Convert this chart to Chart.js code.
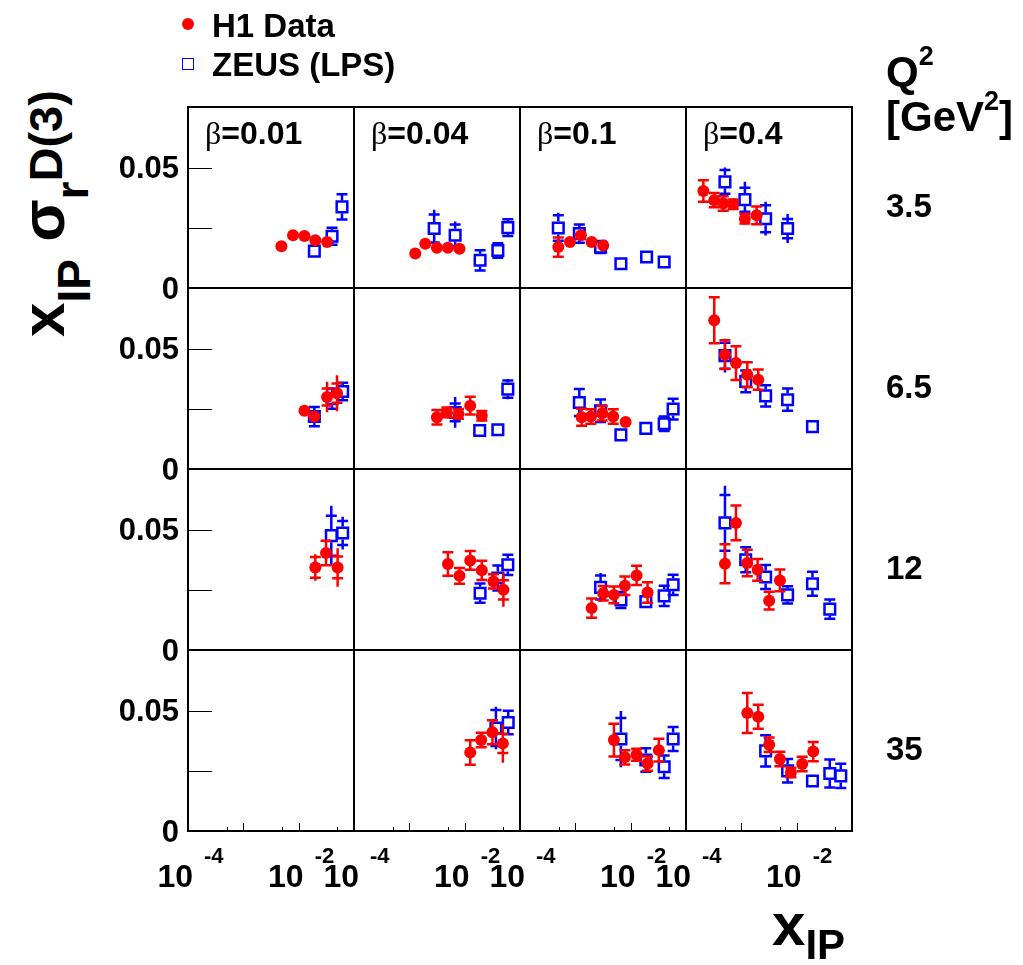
<!DOCTYPE html>
<html><head><meta charset="utf-8">
<script src="https://cdn.jsdelivr.net/npm/chart.js@4.4.1/dist/chart.umd.min.js"></script>
<style>
body{margin:0;background:#fff;}
#root{position:relative;width:1023px;height:965px;overflow:hidden;font-family:"Liberation Sans",Arial,sans-serif;font-weight:bold;color:#000;}
#root canvas{position:absolute;}
.t{position:absolute;white-space:nowrap;line-height:1;}
.sym{font-family:"Liberation Serif","DejaVu Serif",serif;font-weight:normal;}
</style></head><body><div id="root"></div>
<script>
// ---- labels / ticks ----
const betaValues = ['0.01', '0.04', '0.1', '0.4'];
const q2Values = ['3.5', '6.5', '12', '35'];
const yLabelTicks = [0, 0.05];
const yPlainTicks = [0.025, 0.05];
const xLabelExps = [-4, -2];
const xMajorTicks = [1e-3, 1e-2];
const xMinorTicks = [5e-4, 5e-3, 5e-2];

// ---- data: [x_IP, x_IP*sigma_r^D(3), stat error, total error] ----
const h1_q3p5_b001 = [[0.00488,0.0173,0.001,0.001],[0.0079,0.0219,0.001,0.001],[0.0127,0.0216,0.001,0.001],[0.0200,0.0198,0.001,0.001],[0.0326,0.0191,0.0015,0.002]];
const zeus_q3p5_b001 = [[0.0192,0.0153,0.001,0.001],[0.0401,0.0215,0.0035,0.0035],[0.0607,0.0337,0.0052,0.0055]];
const h1_q3p5_b004 = [[0.00128,0.0143,0.001,0.001],[0.00194,0.0184,0.001,0.001],[0.00315,0.0167,0.001,0.001],[0.00498,0.0167,0.001,0.001],[0.00806,0.0163,0.001,0.001]];
const zeus_q3p5_b004 = [[0.00281,0.0247,0.0058,0.0078],[0.00673,0.0219,0.0045,0.0057],[0.0190,0.0115,0.0042,0.0042],[0.0398,0.0156,0.003,0.003],[0.0603,0.0251,0.0035,0.0035]];
const h1_q3p5_b01 = [[0.000492,0.0170,0.004,0.004],[0.000799,0.0191,0.0015,0.0015],[0.00126,0.0219,0.0015,0.0015],[0.00197,0.0191,0.001,0.001],[0.00319,0.0177,0.001,0.001]];
const zeus_q3p5_b01 = [[0.000492,0.0249,0.0053,0.0064],[0.00118,0.0226,0.0038,0.0042],[0.00286,0.0170,0.0025,0.0025],[0.00666,0.0101,0.001,0.001],[0.0194,0.0129,0.001,0.001],[0.0403,0.0108,0.001,0.001]];
const h1_q3p5_b04 = [[0.000206,0.0403,0.0045,0.0045],[0.000324,0.0365,0.003,0.003],[0.000471,0.0351,0.003,0.003],[0.000714,0.0348,0.002,0.002],[0.00116,0.0288,0.002,0.002],[0.00189,0.0302,0.0037,0.0037]];
const zeus_q3p5_b04 = [[0.000506,0.0441,0.0049,0.006],[0.00116,0.0367,0.005,0.0074],[0.00275,0.0288,0.0056,0.007],[0.00686,0.0247,0.004,0.006]];

const h1_q6p5_b001 = [[0.0127,0.0242,0.001,0.001],[0.0192,0.0218,0.001,0.001],[0.0326,0.0299,0.0035,0.0063],[0.0493,0.0315,0.004,0.0075]];
const zeus_q6p5_b001 = [[0.0192,0.0218,0.004,0.004],[0.0401,0.0292,0.0042,0.0042],[0.0624,0.0322,0.0036,0.0036]];
const h1_q6p5_b004 = [[0.00315,0.0215,0.003,0.003],[0.00477,0.0235,0.002,0.002],[0.00773,0.0229,0.002,0.002],[0.0126,0.0263,0.0037,0.0037],[0.0204,0.0221,0.002,0.002]];
const zeus_q6p5_b004 = [[0.00673,0.0235,0.0037,0.0064],[0.0187,0.0160,0.001,0.001],[0.0398,0.0163,0.002,0.002],[0.0603,0.0332,0.0036,0.0042]];
const h1_q6p5_b01 = [[0.0013,0.0215,0.0035,0.0035],[0.00191,0.0218,0.003,0.003],[0.00306,0.0232,0.003,0.003],[0.00483,0.0218,0.003,0.003],[0.0081,0.0195,0.001,0.001]];
const zeus_q6p5_b01 = [[0.00118,0.0276,0.0056,0.0062],[0.00286,0.0242,0.0047,0.0047],[0.00666,0.0142,0.001,0.001],[0.0188,0.0169,0.002,0.002],[0.0403,0.0188,0.003,0.003],[0.0585,0.0249,0.0043,0.0043]];
const h1_q6p5_b04 = [[0.000324,0.0618,0.0096,0.0096],[0.000506,0.0475,0.006,0.006],[0.0008,0.0440,0.007,0.007],[0.00128,0.0392,0.0052,0.0052],[0.00202,0.0371,0.0042,0.0042]];
const zeus_q6p5_b04 = [[0.000506,0.0471,0.0054,0.007],[0.0012,0.0364,0.0045,0.0045],[0.00275,0.0304,0.0044,0.0044],[0.00686,0.0288,0.0046,0.0046],[0.0193,0.0176,0.0015,0.0015]];

const h1_q12_b001 = [[0.0200,0.0343,0.0043,0.0055],[0.0312,0.0403,0.0051,0.0051],[0.0506,0.0343,0.0045,0.008]];
const zeus_q12_b001 = [[0.0389,0.0475,0.0083,0.0124],[0.0624,0.0486,0.005,0.0068]];
const h1_q12_b004 = [[0.00498,0.0357,0.0049,0.0049],[0.00806,0.0308,0.0033,0.0033],[0.0126,0.0372,0.0039,0.0039],[0.0204,0.0331,0.004,0.004],[0.0331,0.0285,0.003,0.003],[0.0501,0.0250,0.004,0.007]];
const zeus_q12_b004 = [[0.0190,0.0236,0.004,0.004],[0.0398,0.0299,0.0052,0.0052],[0.0603,0.0354,0.0042,0.0042]];
const h1_q12_b01 = [[0.00197,0.0174,0.004,0.004],[0.00319,0.0236,0.003,0.003],[0.00498,0.0229,0.0035,0.0035],[0.00786,0.0267,0.0038,0.0038],[0.0128,0.0310,0.004,0.004],[0.0202,0.0239,0.0043,0.0043]];
const zeus_q12_b01 = [[0.00286,0.0260,0.005,0.006],[0.00666,0.0208,0.0033,0.0033],[0.0188,0.0201,0.0015,0.0015],[0.0403,0.0225,0.0042,0.0042],[0.0585,0.0271,0.0042,0.0042]];
const h1_q12_b04 = [[0.000506,0.0358,0.0081,0.0081],[0.0008,0.0528,0.0072,0.0072],[0.00128,0.0361,0.0055,0.0055],[0.00197,0.0333,0.0045,0.0045],[0.00318,0.0205,0.0037,0.0037],[0.00498,0.0289,0.0045,0.0045]];
const zeus_q12_b04 = [[0.000506,0.0528,0.0116,0.0154],[0.0012,0.0375,0.0052,0.0052],[0.00275,0.0303,0.005,0.005],[0.00686,0.0229,0.0036,0.0036],[0.0193,0.0275,0.005,0.005],[0.0397,0.0170,0.004,0.004]];

const h1_q35_b001 = [];
const zeus_q35_b001 = [];
const h1_q35_b004 = [[0.0126,0.0326,0.0051,0.0051],[0.0199,0.0378,0.003,0.003],[0.0318,0.0410,0.005,0.005],[0.0490,0.0364,0.004,0.008]];
const zeus_q35_b004 = [[0.0367,0.0428,0.0075,0.0088],[0.0612,0.0451,0.0049,0.0049]];
const h1_q35_b01 = [[0.00498,0.0378,0.0068,0.0068],[0.00786,0.0306,0.003,0.003],[0.0128,0.0317,0.0025,0.0025],[0.0202,0.0280,0.003,0.003],[0.0323,0.0336,0.0047,0.0047]];
const zeus_q35_b01 = [[0.00666,0.0382,0.0087,0.0117],[0.0188,0.0295,0.0049,0.0049],[0.0403,0.0267,0.0047,0.0047],[0.0585,0.0382,0.005,0.005]];
const h1_q35_b04 = [[0.00128,0.0490,0.0083,0.0083],[0.00202,0.0475,0.005,0.005],[0.00318,0.0358,0.003,0.003],[0.00498,0.0299,0.003,0.003],[0.00786,0.0243,0.002,0.002],[0.0126,0.0278,0.003,0.003],[0.0199,0.0330,0.004,0.004]];
const zeus_q35_b04 = [[0.00275,0.0333,0.0065,0.0065],[0.00686,0.0250,0.0049,0.0049],[0.0193,0.0208,0.002,0.002],[0.0397,0.0239,0.0058,0.0058],[0.0627,0.0229,0.005,0.005]];

const h1Panels = [
  [h1_q3p5_b001, h1_q3p5_b004, h1_q3p5_b01, h1_q3p5_b04],
  [h1_q6p5_b001, h1_q6p5_b004, h1_q6p5_b01, h1_q6p5_b04],
  [h1_q12_b001, h1_q12_b004, h1_q12_b01, h1_q12_b04],
  [h1_q35_b001, h1_q35_b004, h1_q35_b01, h1_q35_b04]
];
const zeusPanels = [
  [zeus_q3p5_b001, zeus_q3p5_b004, zeus_q3p5_b01, zeus_q3p5_b04],
  [zeus_q6p5_b001, zeus_q6p5_b004, zeus_q6p5_b01, zeus_q6p5_b04],
  [zeus_q12_b001, zeus_q12_b004, zeus_q12_b01, zeus_q12_b04],
  [zeus_q35_b001, zeus_q35_b004, zeus_q35_b01, zeus_q35_b04]
];

// ---- layout ----
const PL = [188, 354, 520, 686], PT = [107, 288, 469, 650], PW = 166, PH = 181, M = 80;
const RED = '#ff0000', BLUE = '#0000ff';
const FONT = '"Liberation Sans", Arial, sans-serif';
const root = document.getElementById('root');

function addText(html, left, top, size, extra) {
  const d = document.createElement('div');
  d.className = 't';
  d.style.left = left + 'px';
  d.style.top = top + 'px';
  d.style.fontSize = size + 'px';
  if (extra) Object.assign(d.style, extra);
  d.innerHTML = html;
  root.appendChild(d);
  return d;
}

const errorBars = {
  id: 'errorBars',
  beforeDatasetDraw(chart, args) {
    const ds = chart.data.datasets[args.index];
    const ctx = chart.ctx, xs = chart.scales.x, ys = chart.scales.y;
    ctx.save();
    ctx.strokeStyle = ds.borderColor;
    ctx.lineWidth = 2.5;
    ds.errs.forEach((e, i) => {
      const p = ds.data[i];
      const px = xs.getPixelForValue(p.x), py = ys.getPixelForValue(p.y);
      const h = ds.half;
      const tU = ys.getPixelForValue(p.y + e.tot), tD = ys.getPixelForValue(p.y - e.tot);
      const sU = ys.getPixelForValue(p.y + e.stat), sD = ys.getPixelForValue(p.y - e.stat);
      ctx.beginPath();
      if (py - tU > h) { ctx.moveTo(px, py - h); ctx.lineTo(px, tU); ctx.moveTo(px, py + h); ctx.lineTo(px, tD); }
      if (py - sU > h - 1) { ctx.moveTo(px - 5.5, sU); ctx.lineTo(px + 5.5, sU); ctx.moveTo(px - 5.5, sD); ctx.lineTo(px + 5.5, sD); }
      ctx.stroke();
    });
    ctx.restore();
  }
};

const frameAxes = {
  id: 'frameAxes',
  afterDraw(chart) {
    const ctx = chart.ctx, a = chart.chartArea, xs = chart.scales.x, ys = chart.scales.y;
    const o = chart.options.plugins.frameAxes;
    ctx.save();
    ctx.strokeStyle = '#000';
    ctx.lineWidth = 2;
    ctx.strokeRect(a.left, a.top, a.right - a.left, a.bottom - a.top);
    ctx.fillStyle = '#000';
    if (o.col === 0) {
      ctx.lineWidth = 1;
      yPlainTicks.forEach(v => {
        const y = Math.round(ys.getPixelForValue(v)) + 0.5;
        ctx.beginPath(); ctx.moveTo(a.left, y); ctx.lineTo(a.left + 24, y); ctx.stroke();
      });
      ctx.font = 'bold 31px ' + FONT;
      ctx.textAlign = 'right';
      ctx.textBaseline = 'middle';
      yLabelTicks.forEach(v => {
        ctx.fillText(v === 0 ? '0' : String(v), a.left - 9, ys.getPixelForValue(v) + 2);
      });
    }
    if (o.row === 3) {
      ctx.lineWidth = 1;
      xMajorTicks.forEach(v => {
        const x = Math.round(xs.getPixelForValue(v)) + 0.5;
        ctx.beginPath(); ctx.moveTo(x, a.bottom); ctx.lineTo(x, a.bottom - 8); ctx.stroke();
      });
      xMinorTicks.forEach(v => {
        const x = Math.round(xs.getPixelForValue(v)) + 0.5;
        ctx.beginPath(); ctx.moveTo(x, a.bottom); ctx.lineTo(x, a.bottom - 4); ctx.stroke();
      });
      ctx.textBaseline = 'alphabetic';
      xLabelExps.forEach(ex => {
        const x = xs.getPixelForValue(Math.pow(10, ex));
        ctx.font = 'bold 32px ' + FONT;
        ctx.textAlign = 'right';
        ctx.fillText('10', x + 5, a.bottom + 56);
        ctx.font = 'bold 22px ' + FONT;
        ctx.textAlign = 'left';
        ctx.fillText(String(ex), x + 16, a.bottom + 32);
      });
    }
    ctx.restore();
  }
};

function toPts(arr) { return arr.map(d => ({ x: d[0], y: d[1] })); }
function toErr(arr) { return arr.map(d => ({ stat: d[2], tot: d[3] })); }

for (let r = 0; r < 4; r++) {
  for (let c = 0; c < 4; c++) {
    const cv = document.createElement('canvas');
    cv.width = PW + 2 * M; cv.height = PH + 2 * M;
    cv.style.left = (PL[c] - M) + 'px';
    cv.style.top = (PT[r] - M) + 'px';
    cv.style.width = (PW + 2 * M) + 'px';
    cv.style.height = (PH + 2 * M) + 'px';
    root.appendChild(cv);
    const h1 = h1Panels[r][c], ze = zeusPanels[r][c];
    new Chart(cv, {
      type: 'scatter',
      data: {
        datasets: [
          { label: 'H1 Data', data: toPts(h1), errs: toErr(h1), half: 5,
            pointStyle: 'circle', pointRadius: 6, backgroundColor: RED, borderColor: RED, borderWidth: 0, clip: false },
          { label: 'ZEUS (LPS)', data: toPts(ze), errs: toErr(ze), half: 6.5,
            pointStyle: 'rect', pointRadius: 7.5, backgroundColor: 'rgba(0,0,0,0)', borderColor: BLUE, borderWidth: 2.5, clip: false }
        ]
      },
      options: {
        responsive: false, animation: false, devicePixelRatio: 1,
        layout: { padding: M },
        events: [],
        scales: {
          x: { type: 'logarithmic', min: 1e-4, max: 1e-1, display: false },
          y: { type: 'linear', min: 0, max: 0.0752, display: false }
        },
        plugins: { legend: { display: false }, tooltip: { enabled: false }, frameAxes: { row: r, col: c } }
      },
      plugins: [errorBars, frameAxes]
    });
  }
}

// beta labels
betaValues.forEach((b, c) => {
  addText('<span class="sym">β</span>=' + b, PL[c] + 17, 117, 32);
});
// Q2 values
q2Values.forEach((q, r) => {
  addText(q, 886, PT[r] + 82, 33);
});
addText('Q<sup style="font-size:27px;position:relative;top:-6px">2</sup>', 886, 49, 42);
addText('[GeV<sup style="font-size:27px;position:relative;top:-6px">2</sup>]', 886, 94, 42);

// legend
const dot = document.createElement('div');
Object.assign(dot.style, { position: 'absolute', left: '182px', top: '18px', width: '12px', height: '12px', borderRadius: '50%', background: RED });
root.appendChild(dot);
const sq = document.createElement('div');
Object.assign(sq.style, { position: 'absolute', left: '182px', top: '58px', width: '10px', height: '10px', border: '1.5px solid ' + BLUE });
root.appendChild(sq);
addText('H1 Data', 212, 9, 33);
addText('ZEUS (LPS)', 212, 48, 33);

// axis titles
addText('x<span style="font-size:42px;position:relative;top:14px">IP</span>', 772, 895, 60);
addText('x<span style="font-size:46px;position:relative;top:26px">IP</span> σ<span style="font-size:46px;position:relative;top:24px">r</span><span style="font-size:47px;position:relative;top:-2px">D(3)</span>', 12, 337, 62,
  { transform: 'rotate(-90deg)', transformOrigin: '0 0' });
</script>
</body></html>
